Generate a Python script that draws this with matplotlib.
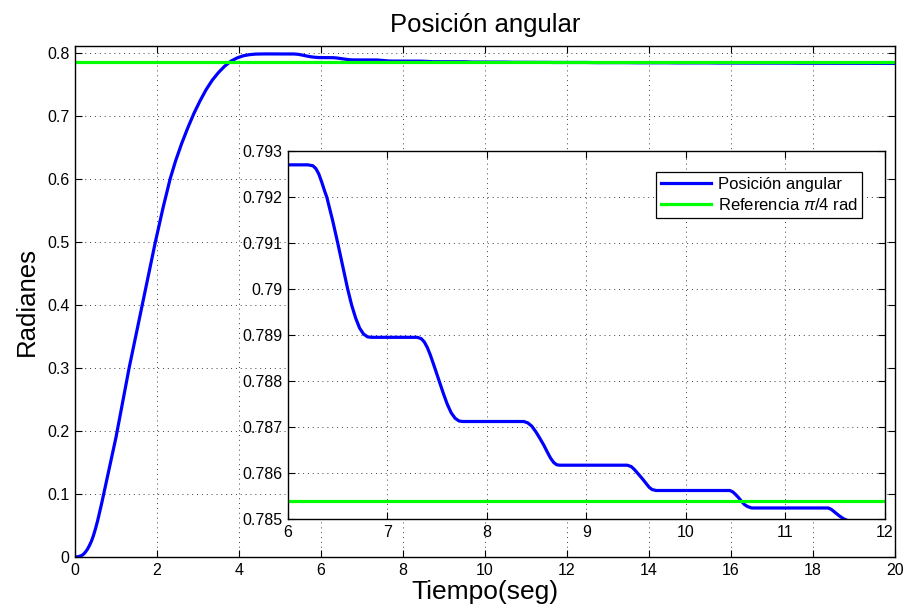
import numpy as np
from matplotlib import pyplot as plt

plt.rcParams['font.family'] = ['Liberation Sans', 'DejaVu Sans']
plt.rcParams['mathtext.fontset'] = 'custom'
plt.rcParams['mathtext.it'] = 'Liberation Sans:italic'

# respuesta del sistema
tiempo = [0, 0.05, 0.1, 0.15, 0.2, 0.25, 0.3, 0.35, 0.4, 0.45, 0.5, 0.55, 0.6, 0.65, 0.7,
          0.8, 1.0, 1.32, 1.64, 1.96, 2.15, 2.32, 2.45, 2.6, 2.75, 2.9, 3.05, 3.2, 3.35,
          3.5, 3.65, 3.8, 3.95, 4.1, 4.25, 4.4, 4.6, 5.0, 5.35, 5.45, 5.55, 5.65, 5.75,
          5.85, 5.95, 6.0,
          6.20, 6.25, 6.28, 6.31, 6.34, 6.37, 6.39, 6.45, 6.50, 6.55, 6.60, 6.64, 6.68,
          6.72, 6.76, 6.80, 6.84,
          7.30, 7.34, 7.37, 7.40, 7.43, 7.47, 7.52, 7.56, 7.60, 7.64, 7.68, 7.72, 7.76,
          8.37, 8.41, 8.45, 8.49, 8.53, 8.57, 8.61, 8.64, 8.67, 8.70, 8.73,
          9.41, 9.45, 9.48, 9.52, 9.56, 9.60, 9.63, 9.66, 9.70,
          10.44, 10.47, 10.50, 10.53, 10.56, 10.59, 10.62, 10.66,
          11.43, 11.46, 11.50, 11.54, 11.58, 11.62, 11.66, 11.70,
          12.45, 12.7, 13.45, 13.7, 14.45, 14.7, 15.45, 15.7, 16.45, 16.7,
          17.45, 17.7, 18.45, 18.7, 19.45, 19.7, 20.0]
posicion = [0, 0.0002, 0.001, 0.002, 0.004, 0.0075, 0.012, 0.018, 0.025, 0.034, 0.045,
            0.057, 0.071, 0.085, 0.100, 0.130, 0.190, 0.300, 0.400, 0.500, 0.555, 0.600,
            0.628, 0.656, 0.681, 0.704, 0.724, 0.742, 0.757, 0.769, 0.779, 0.787, 0.792,
            0.7955, 0.7973, 0.7982, 0.7985, 0.7985, 0.7984, 0.7978, 0.7966, 0.7952, 0.7940,
            0.7932, 0.79272, 0.79270,
            0.79270, 0.79268, 0.79262, 0.79250, 0.79232, 0.79212, 0.79200, 0.79148, 0.79100,
            0.79050, 0.79000, 0.78965, 0.78937, 0.78915, 0.78902, 0.78896, 0.78895,
            0.78895, 0.78892, 0.78885, 0.78873, 0.78857, 0.78832, 0.78800, 0.78774, 0.78750,
            0.78731, 0.78719, 0.78713, 0.78712,
            0.78712, 0.78709, 0.78702, 0.78690, 0.78676, 0.78661, 0.78644, 0.78632, 0.78623,
            0.78618, 0.78617,
            0.78617, 0.78614, 0.78608, 0.78598, 0.78588, 0.78577, 0.78569, 0.78564, 0.78562,
            0.78562, 0.78559, 0.78553, 0.78546, 0.78538, 0.78531, 0.78527, 0.78524,
            0.78524, 0.78521, 0.78514, 0.78507, 0.78501, 0.78497, 0.78495, 0.78494,
            0.78494, 0.78468, 0.78468, 0.78445, 0.78445, 0.78425, 0.78425, 0.78405,
            0.78405, 0.78388, 0.78388, 0.78372, 0.78372, 0.78357, 0.78357, 0.78343, 0.78343]
referencia = np.pi / 4

main_yticks = [0, 0.1, 0.2, 0.3, 0.4, 0.5, 0.6, 0.7, 0.8]
main_ylabels = ['0', '0.1', '0.2', '0.3', '0.4', '0.5', '0.6', '0.7', '0.8']
main_xticks = [0, 2, 4, 6, 8, 10, 12, 14, 16, 18, 20]
ins_yticks = [0.785, 0.786, 0.787, 0.788, 0.789, 0.79, 0.791, 0.792, 0.793]
ins_ylabels = ['0.785', '0.786', '0.787', '0.788', '0.789', '0.79', '0.791', '0.792', '0.793']
ins_xticks = [6, 7, 8, 9, 10, 11, 12]

fig = plt.figure(figsize=(9.09, 6.14), dpi=100)
grid_style = dict(color='0.25', linestyle=(0, (1, 4)), linewidth=0.7)


def matlab_axes(ax):
    ax.tick_params(direction='in', top=True, right=True, length=5, width=0.8,
                   labelsize=11.5, pad=4)
    for s in ax.spines.values():
        s.set_linewidth(1.0)
    ax.grid(True, **grid_style)


ax = fig.add_axes([0.0825, 0.0928, 0.9021, 0.8322])
ax.plot(tiempo, posicion, color='#0000ff', lw=2.3, label='Posición angular')
ax.plot([0, 20], [referencia, referencia], color='#00ff00', lw=2.3, label=r'Referencia $\pi$/4 rad')
ax.set_xlim(0, 20)
ax.set_ylim(0, 0.811)
ax.set_xticks(main_xticks)
ax.set_yticks(main_yticks)
ax.set_yticklabels(main_ylabels)
matlab_axes(ax)
ax.set_title('Posición angular', fontsize=18.5, pad=10)
ax.set_xlabel('Tiempo(seg)', fontsize=19, labelpad=2)
ax.set_ylabel('Radianes', fontsize=18.5, labelpad=6)

axi = fig.add_axes([0.3168, 0.1547, 0.6568, 0.5993])
axi.plot(tiempo, posicion, color='#0000ff', lw=2.3, label='Posición angular')
axi.plot([0, 20], [referencia, referencia], color='#00ff00', lw=2.3, label=r'Referencia $\pi$/4 rad')
axi.set_xlim(6, 12)
axi.set_ylim(0.785, 0.793)
axi.set_xticks(ins_xticks)
axi.set_yticks(ins_yticks)
axi.set_yticklabels(ins_ylabels)
matlab_axes(axi)
leg = axi.legend(loc='upper right', bbox_to_anchor=(0.962, 0.944), fontsize=12,
                 fancybox=False, framealpha=1, edgecolor='black', handlelength=3.0,
                 borderpad=0.3, labelspacing=0.3, handletextpad=0.4, borderaxespad=0)
leg.get_frame().set_linewidth(0.9)

fig.savefig('out.png', dpi=100)
